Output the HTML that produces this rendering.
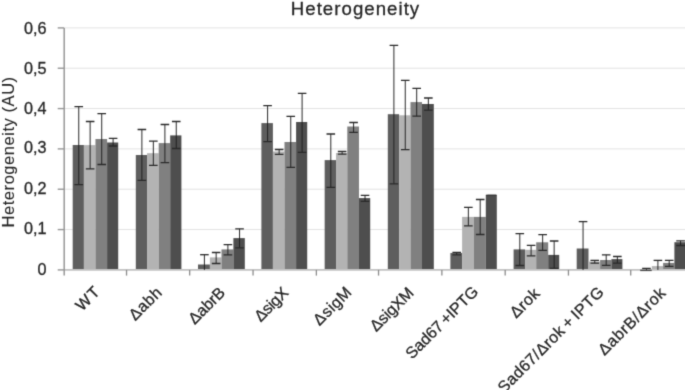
<!DOCTYPE html>
<html><head><meta charset="utf-8"><style>
html,body{margin:0;padding:0;background:#fff;}
body{width:685px;height:390px;overflow:hidden;}
svg{display:block;will-change:transform;font-family:"Liberation Sans",sans-serif;}
text{fill:#262626;stroke:#262626;stroke-width:0.3px;}
</style></head><body>
<svg width="685" height="390" viewBox="0 0 685 390">
<defs><filter id="bl" filterUnits="userSpaceOnUse" x="0" y="0" width="685" height="390" color-interpolation-filters="sRGB"><feConvolveMatrix order="3" kernelMatrix="0.01917 0.10012 0.01917 0.10012 0.52283 0.10012 0.01917 0.10012 0.01917" edgeMode="duplicate" preserveAlpha="true"/></filter></defs>
<g filter="url(#bl)">
<rect width="685" height="390" fill="#fff"/>
<line x1="64.2" y1="229.57" x2="685" y2="229.57" stroke="#e3e3e3" stroke-width="1"/>
<line x1="64.2" y1="189.23" x2="685" y2="189.23" stroke="#e3e3e3" stroke-width="1"/>
<line x1="64.2" y1="148.9" x2="685" y2="148.9" stroke="#e3e3e3" stroke-width="1"/>
<line x1="64.2" y1="108.57" x2="685" y2="108.57" stroke="#e3e3e3" stroke-width="1"/>
<line x1="64.2" y1="68.23" x2="685" y2="68.23" stroke="#e3e3e3" stroke-width="1"/>
<line x1="64.2" y1="27.9" x2="685" y2="27.9" stroke="#e3e3e3" stroke-width="1"/>
<rect x="72.7" y="145" width="11.2" height="124.9" fill="#5e5e5e"/>
<rect x="83.9" y="145.1" width="11.57" height="124.8" fill="#b3b3b3"/>
<rect x="95.47" y="139" width="11.63" height="130.9" fill="#808080"/>
<rect x="107.1" y="142.5" width="11.1" height="127.4" fill="#4e4e4e"/>
<rect x="135.8" y="155" width="11.26" height="114.9" fill="#5e5e5e"/>
<rect x="147.06" y="153.2" width="11.64" height="116.7" fill="#b3b3b3"/>
<rect x="158.7" y="143.1" width="11.5" height="126.8" fill="#808080"/>
<rect x="170.2" y="135.4" width="11.2" height="134.5" fill="#4e4e4e"/>
<rect x="198" y="264.5" width="11.9" height="5.4" fill="#5e5e5e"/>
<rect x="209.9" y="257.4" width="11.6" height="12.5" fill="#b3b3b3"/>
<rect x="221.5" y="249.4" width="11.9" height="20.5" fill="#808080"/>
<rect x="233.4" y="238.1" width="11.4" height="31.8" fill="#4e4e4e"/>
<rect x="261.4" y="123.1" width="11.5" height="146.8" fill="#5e5e5e"/>
<rect x="272.9" y="151.5" width="11.6" height="118.4" fill="#b3b3b3"/>
<rect x="284.5" y="142" width="11.6" height="127.9" fill="#808080"/>
<rect x="296.1" y="122" width="11.1" height="147.9" fill="#4e4e4e"/>
<rect x="324.66" y="160.1" width="11.4" height="109.8" fill="#5e5e5e"/>
<rect x="336.06" y="153" width="11.24" height="116.9" fill="#b3b3b3"/>
<rect x="347.3" y="126.5" width="11.66" height="143.4" fill="#808080"/>
<rect x="358.96" y="198.1" width="11.24" height="71.8" fill="#4e4e4e"/>
<rect x="387.8" y="114.2" width="11.3" height="155.7" fill="#5e5e5e"/>
<rect x="399.1" y="115.3" width="11.4" height="154.6" fill="#b3b3b3"/>
<rect x="410.5" y="102.1" width="11.5" height="167.8" fill="#808080"/>
<rect x="422" y="104" width="11.8" height="165.9" fill="#4e4e4e"/>
<rect x="450.4" y="253" width="11.7" height="16.9" fill="#5e5e5e"/>
<rect x="462.1" y="216.9" width="11.6" height="53" fill="#b3b3b3"/>
<rect x="473.7" y="216.9" width="12.1" height="53" fill="#808080"/>
<rect x="485.8" y="195.4" width="11" height="74.5" fill="#4e4e4e"/>
<rect x="513.6" y="249.4" width="11.5" height="20.5" fill="#5e5e5e"/>
<rect x="525.1" y="249.8" width="11.1" height="20.1" fill="#b3b3b3"/>
<rect x="536.2" y="242.3" width="12" height="27.6" fill="#808080"/>
<rect x="548.2" y="254.9" width="11" height="15" fill="#4e4e4e"/>
<rect x="576.7" y="248.5" width="11.8" height="21.4" fill="#5e5e5e"/>
<rect x="588.5" y="261.5" width="11.6" height="8.4" fill="#b3b3b3"/>
<rect x="600.1" y="260" width="11.3" height="9.9" fill="#808080"/>
<rect x="611.4" y="259.1" width="11" height="10.8" fill="#4e4e4e"/>
<rect x="651.8" y="266.1" width="11.3" height="3.8" fill="#b3b3b3"/>
<rect x="663.1" y="262.9" width="11.3" height="7" fill="#808080"/>
<rect x="674.4" y="242.2" width="11.4" height="27.7" fill="#4e4e4e"/>
<line x1="64.2" y1="269.9" x2="685" y2="269.9" stroke="#c2c2c2" stroke-width="1.6"/>
<line x1="126.54" y1="269.9" x2="126.54" y2="275.6" stroke="#8c8c8c" stroke-width="1.3"/>
<line x1="189.67" y1="269.9" x2="189.67" y2="275.6" stroke="#8c8c8c" stroke-width="1.3"/>
<line x1="253.05" y1="269.9" x2="253.05" y2="275.6" stroke="#8c8c8c" stroke-width="1.3"/>
<line x1="316.38" y1="269.9" x2="316.38" y2="275.6" stroke="#8c8c8c" stroke-width="1.3"/>
<line x1="378.54" y1="269.9" x2="378.54" y2="275.6" stroke="#8c8c8c" stroke-width="1.3"/>
<line x1="441.87" y1="269.9" x2="441.87" y2="275.6" stroke="#8c8c8c" stroke-width="1.3"/>
<line x1="505.18" y1="269.9" x2="505.18" y2="275.6" stroke="#8c8c8c" stroke-width="1.3"/>
<line x1="568.44" y1="269.9" x2="568.44" y2="275.6" stroke="#8c8c8c" stroke-width="1.3"/>
<line x1="630.72" y1="269.9" x2="630.72" y2="275.6" stroke="#8c8c8c" stroke-width="1.3"/>
<path d="M78.75 106.6V184.6" stroke="#1e1e1e" stroke-width="0.95" fill="none"/>
<path d="M74.45 106.6H83.05M74.45 184.6H83.05" stroke="#2a2a2a" stroke-width="1.3" fill="none"/>
<path d="M90.14 121.5V168.8" stroke="#1e1e1e" stroke-width="0.95" fill="none"/>
<path d="M85.84 121.5H94.44M85.84 168.8H94.44" stroke="#2a2a2a" stroke-width="1.3" fill="none"/>
<path d="M101.73 113.7V164.5" stroke="#1e1e1e" stroke-width="0.95" fill="none"/>
<path d="M97.44 113.7H106.03M97.44 164.5H106.03" stroke="#2a2a2a" stroke-width="1.3" fill="none"/>
<path d="M113.1 138.3V146" stroke="#1e1e1e" stroke-width="0.95" fill="none"/>
<path d="M108.8 138.3H117.4M108.8 146H117.4" stroke="#2a2a2a" stroke-width="1.3" fill="none"/>
<path d="M141.88 129.5V180.3" stroke="#1e1e1e" stroke-width="0.95" fill="none"/>
<path d="M137.58 129.5H146.18M137.58 180.3H146.18" stroke="#2a2a2a" stroke-width="1.3" fill="none"/>
<path d="M153.33 141.1V165.4" stroke="#1e1e1e" stroke-width="0.95" fill="none"/>
<path d="M149.03 141.1H157.63M149.03 165.4H157.63" stroke="#2a2a2a" stroke-width="1.3" fill="none"/>
<path d="M164.9 124.5V162.7" stroke="#1e1e1e" stroke-width="0.95" fill="none"/>
<path d="M160.6 124.5H169.2M160.6 162.7H169.2" stroke="#2a2a2a" stroke-width="1.3" fill="none"/>
<path d="M176.25 121.5V148.5" stroke="#1e1e1e" stroke-width="0.95" fill="none"/>
<path d="M171.95 121.5H180.55M171.95 148.5H180.55" stroke="#2a2a2a" stroke-width="1.3" fill="none"/>
<path d="M204.4 254.7V269.9" stroke="#1e1e1e" stroke-width="0.95" fill="none"/>
<path d="M200.1 254.7H208.7" stroke="#2a2a2a" stroke-width="1.3" fill="none"/>
<path d="M216.15 252.5V263.5" stroke="#1e1e1e" stroke-width="0.95" fill="none"/>
<path d="M211.85 252.5H220.45M211.85 263.5H220.45" stroke="#2a2a2a" stroke-width="1.3" fill="none"/>
<path d="M227.9 244.6V254.9" stroke="#1e1e1e" stroke-width="0.95" fill="none"/>
<path d="M223.6 244.6H232.2M223.6 254.9H232.2" stroke="#2a2a2a" stroke-width="1.3" fill="none"/>
<path d="M239.55 228.8V247.8" stroke="#1e1e1e" stroke-width="0.95" fill="none"/>
<path d="M235.25 228.8H243.85M235.25 247.8H243.85" stroke="#2a2a2a" stroke-width="1.3" fill="none"/>
<path d="M267.6 105.7V141.6" stroke="#1e1e1e" stroke-width="0.95" fill="none"/>
<path d="M263.3 105.7H271.9M263.3 141.6H271.9" stroke="#2a2a2a" stroke-width="1.3" fill="none"/>
<path d="M279.15 149.5V154.3" stroke="#1e1e1e" stroke-width="0.95" fill="none"/>
<path d="M274.85 149.5H283.45M274.85 154.3H283.45" stroke="#2a2a2a" stroke-width="1.3" fill="none"/>
<path d="M290.75 116.4V167.3" stroke="#1e1e1e" stroke-width="0.95" fill="none"/>
<path d="M286.45 116.4H295.05M286.45 167.3H295.05" stroke="#2a2a2a" stroke-width="1.3" fill="none"/>
<path d="M302.1 93.3V152.3" stroke="#1e1e1e" stroke-width="0.95" fill="none"/>
<path d="M297.8 93.3H306.4M297.8 152.3H306.4" stroke="#2a2a2a" stroke-width="1.3" fill="none"/>
<path d="M330.81 134V187.4" stroke="#1e1e1e" stroke-width="0.95" fill="none"/>
<path d="M326.51 134H335.11M326.51 187.4H335.11" stroke="#2a2a2a" stroke-width="1.3" fill="none"/>
<path d="M342.13 151.5V154.2" stroke="#1e1e1e" stroke-width="0.95" fill="none"/>
<path d="M337.83 151.5H346.43M337.83 154.2H346.43" stroke="#2a2a2a" stroke-width="1.3" fill="none"/>
<path d="M353.58 122.5V132.3" stroke="#1e1e1e" stroke-width="0.95" fill="none"/>
<path d="M349.28 122.5H357.88M349.28 132.3H357.88" stroke="#2a2a2a" stroke-width="1.3" fill="none"/>
<path d="M365.03 195.4V201.4" stroke="#1e1e1e" stroke-width="0.95" fill="none"/>
<path d="M360.73 195.4H369.33M360.73 201.4H369.33" stroke="#2a2a2a" stroke-width="1.3" fill="none"/>
<path d="M393.9 45.3V183.9" stroke="#1e1e1e" stroke-width="0.95" fill="none"/>
<path d="M389.6 45.3H398.2M389.6 183.9H398.2" stroke="#2a2a2a" stroke-width="1.3" fill="none"/>
<path d="M405.25 80.4V149.6" stroke="#1e1e1e" stroke-width="0.95" fill="none"/>
<path d="M400.95 80.4H409.55M400.95 149.6H409.55" stroke="#2a2a2a" stroke-width="1.3" fill="none"/>
<path d="M416.7 88.3V116.2" stroke="#1e1e1e" stroke-width="0.95" fill="none"/>
<path d="M412.4 88.3H421M412.4 116.2H421" stroke="#2a2a2a" stroke-width="1.3" fill="none"/>
<path d="M428.35 98V110.1" stroke="#1e1e1e" stroke-width="0.95" fill="none"/>
<path d="M424.05 98H432.65M424.05 110.1H432.65" stroke="#2a2a2a" stroke-width="1.3" fill="none"/>
<path d="M456.7 252.4V254.8" stroke="#1e1e1e" stroke-width="0.95" fill="none"/>
<path d="M452.4 252.4H461M452.4 254.8H461" stroke="#2a2a2a" stroke-width="1.3" fill="none"/>
<path d="M468.35 207.3V225.9" stroke="#1e1e1e" stroke-width="0.95" fill="none"/>
<path d="M464.05 207.3H472.65M464.05 225.9H472.65" stroke="#2a2a2a" stroke-width="1.3" fill="none"/>
<path d="M480.2 199.5V234.5" stroke="#1e1e1e" stroke-width="0.95" fill="none"/>
<path d="M475.9 199.5H484.5M475.9 234.5H484.5" stroke="#2a2a2a" stroke-width="1.3" fill="none"/>
<path d="M487.45 195.4H496.05M487.45 195.4H496.05" stroke="#2a2a2a" stroke-width="1.3" fill="none"/>
<path d="M519.8 233.7V265.5" stroke="#1e1e1e" stroke-width="0.95" fill="none"/>
<path d="M515.5 233.7H524.1M515.5 265.5H524.1" stroke="#2a2a2a" stroke-width="1.3" fill="none"/>
<path d="M531.1 245.3V255.8" stroke="#1e1e1e" stroke-width="0.95" fill="none"/>
<path d="M526.8 245.3H535.4M526.8 255.8H535.4" stroke="#2a2a2a" stroke-width="1.3" fill="none"/>
<path d="M542.65 234.6V250.4" stroke="#1e1e1e" stroke-width="0.95" fill="none"/>
<path d="M538.35 234.6H546.95M538.35 250.4H546.95" stroke="#2a2a2a" stroke-width="1.3" fill="none"/>
<path d="M554.15 241V268.3" stroke="#1e1e1e" stroke-width="0.95" fill="none"/>
<path d="M549.85 241H558.45M549.85 268.3H558.45" stroke="#2a2a2a" stroke-width="1.3" fill="none"/>
<path d="M583.05 221.6V269.9" stroke="#1e1e1e" stroke-width="0.95" fill="none"/>
<path d="M578.75 221.6H587.35" stroke="#2a2a2a" stroke-width="1.3" fill="none"/>
<path d="M594.75 260.4V263.1" stroke="#1e1e1e" stroke-width="0.95" fill="none"/>
<path d="M590.45 260.4H599.05M590.45 263.1H599.05" stroke="#2a2a2a" stroke-width="1.3" fill="none"/>
<path d="M606.2 254.8V265.4" stroke="#1e1e1e" stroke-width="0.95" fill="none"/>
<path d="M601.9 254.8H610.5M601.9 265.4H610.5" stroke="#2a2a2a" stroke-width="1.3" fill="none"/>
<path d="M617.35 256.5V263.1" stroke="#1e1e1e" stroke-width="0.95" fill="none"/>
<path d="M613.05 256.5H621.65M613.05 263.1H621.65" stroke="#2a2a2a" stroke-width="1.3" fill="none"/>
<path d="M646.45 268.4V269.9" stroke="#1e1e1e" stroke-width="0.95" fill="none"/>
<path d="M642.15 268.4H650.75" stroke="#2a2a2a" stroke-width="1.3" fill="none"/>
<path d="M657.9 260.4V269.9" stroke="#1e1e1e" stroke-width="0.95" fill="none"/>
<path d="M653.6 260.4H662.2" stroke="#2a2a2a" stroke-width="1.3" fill="none"/>
<path d="M669.2 260.4V266.4" stroke="#1e1e1e" stroke-width="0.95" fill="none"/>
<path d="M664.9 260.4H673.5M664.9 266.4H673.5" stroke="#2a2a2a" stroke-width="1.3" fill="none"/>
<path d="M680.55 240.8V245.5" stroke="#1e1e1e" stroke-width="0.95" fill="none"/>
<path d="M676.25 240.8H684.85M676.25 245.5H684.85" stroke="#2a2a2a" stroke-width="1.3" fill="none"/>
<rect x="485.9" y="194.7" width="10.8" height="1.3" fill="#383838"/>
<rect x="640.2" y="269.7" width="11.5" height="1.4" fill="#4a4a4a"/>
<line x1="64.2" y1="27.9" x2="64.2" y2="275.5" stroke="#979797" stroke-width="1.5"/>
<line x1="57.7" y1="269.9" x2="64.2" y2="269.9" stroke="#979797" stroke-width="1.4"/>
<line x1="57.7" y1="229.57" x2="64.2" y2="229.57" stroke="#979797" stroke-width="1.4"/>
<line x1="57.7" y1="189.23" x2="64.2" y2="189.23" stroke="#979797" stroke-width="1.4"/>
<line x1="57.7" y1="148.9" x2="64.2" y2="148.9" stroke="#979797" stroke-width="1.4"/>
<line x1="57.7" y1="108.57" x2="64.2" y2="108.57" stroke="#979797" stroke-width="1.4"/>
<line x1="57.7" y1="68.23" x2="64.2" y2="68.23" stroke="#979797" stroke-width="1.4"/>
<line x1="57.7" y1="27.9" x2="64.2" y2="27.9" stroke="#979797" stroke-width="1.4"/>
<text x="46.6" y="274.55" text-anchor="end" font-size="16.2">0</text>
<text x="46.6" y="234.45" text-anchor="end" font-size="16.2">0,1</text>
<text x="46.6" y="193.7" text-anchor="end" font-size="16.2">0,2</text>
<text x="46.6" y="153.25" text-anchor="end" font-size="16.2">0,3</text>
<text x="46.6" y="113.9" text-anchor="end" font-size="16.2">0,4</text>
<text x="46.6" y="73.7" text-anchor="end" font-size="16.2">0,5</text>
<text x="46.6" y="33.6" text-anchor="end" font-size="16.2">0,6</text>
<text x="355.5" y="14.9" text-anchor="middle" font-size="18.6" letter-spacing="1.05">Heterogeneity</text>
<text transform="translate(14.2,151.9) rotate(-90)" text-anchor="middle" font-size="16.5" letter-spacing="0.55" style="stroke-width:0.1px">Heterogeneity (AU)</text>
<text transform="translate(96.47,289.1) rotate(-45)" text-anchor="end" dy="0.36em" font-size="16" textLength="26.16" lengthAdjust="spacing">WT</text>
<text transform="translate(158.6,289.7) rotate(-45)" text-anchor="end" dy="0.36em" font-size="16" textLength="38.88" lengthAdjust="spacing">Δabh</text>
<text transform="translate(221.86,289.7) rotate(-45)" text-anchor="end" dy="0.36em" font-size="16" textLength="44.19" lengthAdjust="spacing">ΔabrB</text>
<text transform="translate(285.22,289.7) rotate(-45)" text-anchor="end" dy="0.36em" font-size="16" textLength="40.51" lengthAdjust="spacing">ΔsigX</text>
<text transform="translate(348.41,289.25) rotate(-45)" text-anchor="end" dy="0.36em" font-size="16" textLength="46.51" lengthAdjust="spacing">ΔsigM</text>
<text transform="translate(410.71,289.7) rotate(-45)" text-anchor="end" dy="0.36em" font-size="16" textLength="54.34" lengthAdjust="spacing">ΔsigXM</text>
<text transform="translate(475.18,288.55) rotate(-45)" text-anchor="end" dy="0.36em" font-size="16" textLength="95.02" lengthAdjust="spacing" word-spacing="-1.5">Sad67 +IPTG</text>
<text transform="translate(536.56,290.45) rotate(-45)" text-anchor="end" dy="0.36em" font-size="16" textLength="34.41" lengthAdjust="spacing">Δrok</text>
<text transform="translate(600.7,289.08) rotate(-45)" text-anchor="end" dy="0.36em" font-size="16" textLength="142.2" lengthAdjust="spacing" word-spacing="-1.5">Sad67/Δrok + IPTG</text>
<text transform="translate(662.31,290.1) rotate(-45)" text-anchor="end" dy="0.36em" font-size="16" textLength="87.58" lengthAdjust="spacing">ΔabrB/Δrok</text>
</g>
</svg>
</body></html>
